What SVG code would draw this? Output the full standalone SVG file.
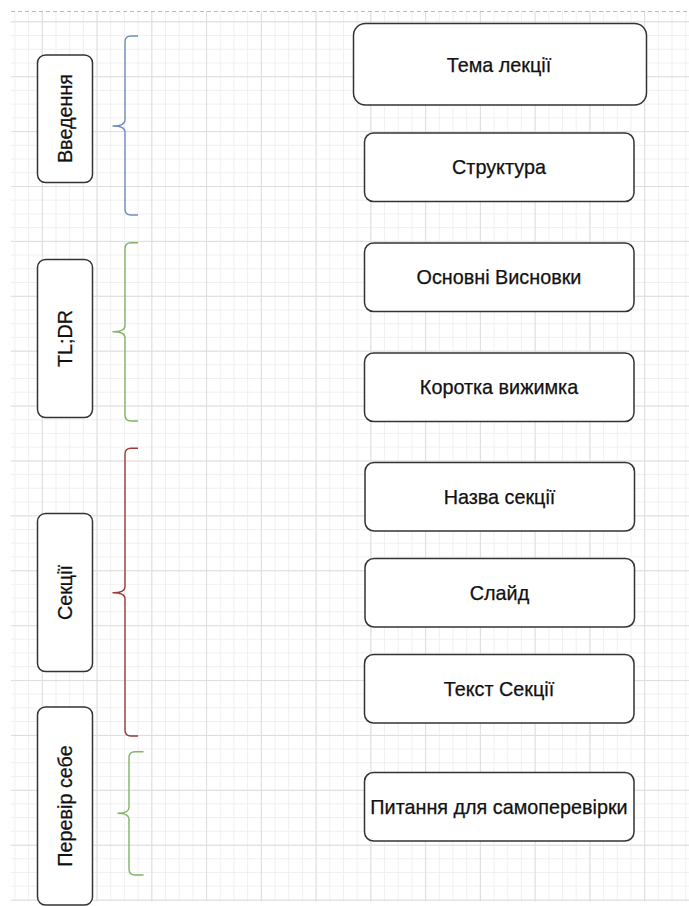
<svg xmlns="http://www.w3.org/2000/svg" width="689" height="906" viewBox="0 0 689 906">
  <style>
    .box { fill: #ffffff; stroke: #333333; stroke-width: 1.5; }
    .lbl { font-family: "Liberation Sans", Arial, Helvetica, sans-serif; font-size: 19.8px; fill: #111111; stroke: #111111; stroke-width: 0.25; text-anchor: middle; dominant-baseline: central; }
    .brace { fill: none; stroke-width: 1.4; stroke-linejoin: round; }
  </style>
  <defs>
    <pattern id="gridMinor" patternUnits="userSpaceOnUse" x="41.8" y="76.2" width="13.69" height="13.72">
      <path d="M0.5 0 V13.72 M0 0.5 H13.69" stroke="#f0f0f0" stroke-width="1" fill="none"/>
    </pattern>
    <pattern id="gridMajor" patternUnits="userSpaceOnUse" x="41.8" y="76.2" width="54.76" height="54.9">
      <path d="M0.5 0 V54.9 M0 0.5 H54.76" stroke="#dedede" stroke-width="1" fill="none"/>
    </pattern>
  </defs>

  <!-- page background and grid -->
  <rect x="0" y="0" width="689" height="906" fill="#ffffff"/>
  <rect x="11" y="11" width="678" height="890.5" fill="url(#gridMinor)"/>
  <rect x="11" y="11" width="678" height="890.5" fill="url(#gridMajor)"/>
  <line x1="11" y1="11.5" x2="689" y2="11.5" stroke="#bbbbbb" stroke-width="1" stroke-dasharray="4 3"/>

  <!-- section labels (rotated) -->
  <g id="intro">
    <rect class="box" x="37.5" y="55" width="55" height="127.5" rx="8"/>
    <text class="lbl" transform="translate(64.5 118.5) rotate(-90)">Введення</text>
  </g>
  <g id="tldr">
    <rect class="box" x="37.5" y="259.5" width="55" height="158" rx="8"/>
    <text class="lbl" transform="translate(64.5 338.5) rotate(-90)">TL;DR</text>
  </g>
  <g id="sections">
    <rect class="box" x="37.5" y="513.5" width="55" height="158" rx="8"/>
    <text class="lbl" transform="translate(64.5 592.5) rotate(-90)">Секції</text>
  </g>
  <g id="selfcheck">
    <rect class="box" x="37.5" y="707" width="55" height="198" rx="8"/>
    <text class="lbl" transform="translate(64.5 806) rotate(-90)">Перевір себе</text>
  </g>

  <!-- brackets grouping the content blocks -->
  <g id="connectors">
    <path class="brace" stroke="#6c8ebf" d="M138 36 H131 Q125 36 125 42 V120 Q125 126 113 126 Q125 126 125 132 V209 Q125 215 131 215 H138"/>
    <path class="brace" stroke="#82b366" d="M138 242.7 H131 Q125 242.7 125 248.7 V325.7 Q125 331.7 113 331.7 Q125 331.7 125 337.7 V415 Q125 421 131 421 H138"/>
    <path class="brace" stroke="#9e3a34" d="M138 448.3 H131 Q125 448.3 125 454.3 V586.7 Q125 592.7 113 592.7 Q125 592.7 125 598.7 V730 Q125 736 131 736 H138"/>
    <path class="brace" stroke="#82b366" d="M143.5 751.7 H135 Q129 751.7 129 757.7 V807.3 Q129 813.3 118 813.3 Q129 813.3 129 819.3 V869 Q129 875 135 875 H143.5"/>
  </g>

  <!-- content blocks -->
  <g id="topic">
    <rect class="box" x="353.5" y="23.5" width="293" height="81.5" rx="12"/>
    <text class="lbl" x="499" y="64.5">Тема лекції</text>
  </g>
  <g id="structure">
    <rect class="box" x="364.5" y="133" width="269.5" height="68.5" rx="9"/>
    <text class="lbl" x="499" y="167.3">Структура</text>
  </g>
  <g id="conclusions">
    <rect class="box" x="364.5" y="243" width="269.5" height="68.5" rx="9"/>
    <text class="lbl" x="499" y="277.3">Основні Висновки</text>
  </g>
  <g id="summary">
    <rect class="box" x="364.5" y="353" width="269.5" height="68.5" rx="9"/>
    <text class="lbl" x="499" y="387.3">Коротка вижимка</text>
  </g>
  <g id="section-title">
    <rect class="box" x="365" y="462.5" width="269.5" height="68.5" rx="9"/>
    <text class="lbl" x="499.5" y="496.8">Назва секції</text>
  </g>
  <g id="slide">
    <rect class="box" x="365" y="558.5" width="269.5" height="68.5" rx="9"/>
    <text class="lbl" x="499.5" y="592.8">Слайд</text>
  </g>
  <g id="section-text">
    <rect class="box" x="364.5" y="654.5" width="269.5" height="68.5" rx="9"/>
    <text class="lbl" x="499" y="688.8">Текст Секції</text>
  </g>
  <g id="questions">
    <rect class="box" x="364.5" y="772.5" width="269.5" height="68.5" rx="9"/>
    <text class="lbl" x="499" y="806.8">Питання для самоперевірки</text>
  </g>
</svg>
